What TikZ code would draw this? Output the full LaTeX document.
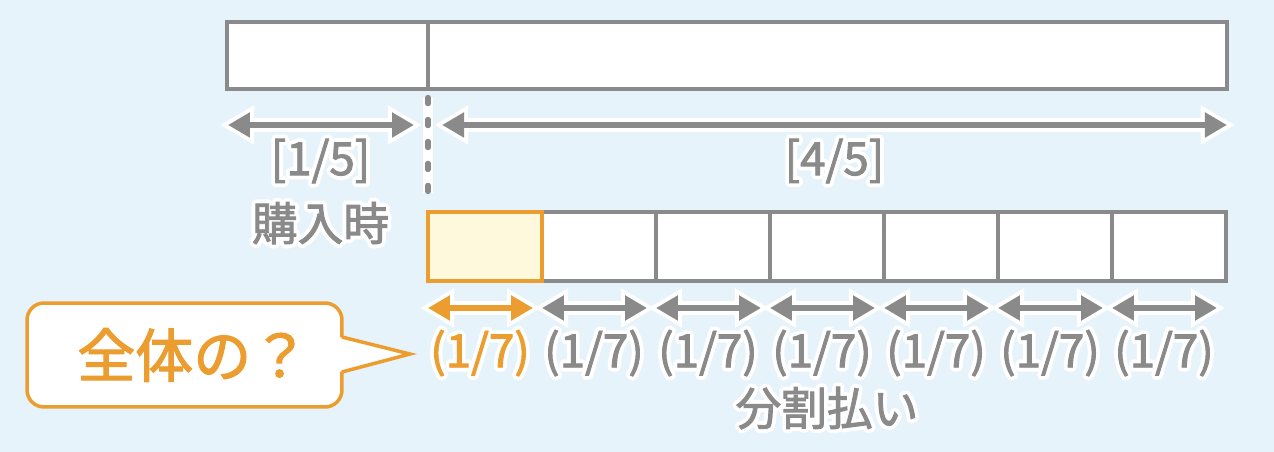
\documentclass[tikz,border=0pt]{standalone}
\usepackage{fontspec}
\setmainfont[FakeBold=2]{Noto Sans CJK JP}
\usepackage{contour}
\contourlength{2.2pt}
\contournumber{12}
\usetikzlibrary{arrows.meta,calc}
\definecolor{bgblue}{HTML}{E6F3FB}
\definecolor{tgray}{HTML}{8A8A8A}
\definecolor{torange}{HTML}{EC9D2F}
\definecolor{lyellow}{HTML}{FEF8DC}
\tikzset{
  bar/.style={draw=tgray, fill=white, line width=2pt, outer sep=0pt, inner sep=0pt},
  cell/.style={bar, minimum width=2.28cm, minimum height=1.38cm},
  dimline/.style={draw=tgray, line width=3.1pt,
    {Triangle[length=12.5pt,width=13.6pt]}-{Triangle[length=12.5pt,width=13.6pt]},
    preaction={draw=white, line width=7.7pt,
      {Triangle[length=19.3pt,width=21pt]}-{Triangle[length=19.3pt,width=21pt]},
      shorten <=-4.5pt, shorten >=-4.5pt}},
  lbl/.style={text=tgray, inner sep=0pt, font=\fontsize{26}{30}\selectfont},
}
\begin{document}
\begin{tikzpicture}[x=0.02cm, y=-0.02cm]
  %background
  \fill[bgblue] (0,0) rectangle (1274,452);
%Whole price
  \node[bar, minimum width=4.02cm, minimum height=1.34cm] (now) at (327.5,55.5) {};
  \node[bar, minimum width=15.98cm, minimum height=1.34cm] (rest) at (827.5,55.5) {};
  %divider
  \draw[tgray, line width=3pt, line cap=round, dash pattern=on 3.5pt off 9pt,
    preaction={draw=white, line width=5.8pt}]
    ($(now.south east)+(0,8.5)$) -- ($(now.south east)+(0,104)$);
  \draw[dimline] ($(now.south west)+(1,36)$) -- ($(now.south east)+(-14,36)$);
  \draw[dimline] ($(rest.south west)+(14,36)$) -- ($(rest.south east)+(0,36)$);
  \node[lbl] (fnow) at ($(now.south)+(-7,74)$) {\contour{white}{[1/5]}};
  \node[lbl] (buy) at ($(now.south)+(-7,136)$) {\contour{white}{購入時}};
  \node[lbl] (frest) at ($(rest.south)+(7,74)$) {\contour{white}{[4/5]}};
%Installments
  \foreach \i in {2,...,7} {
    \node[cell] (c\i) at ({485+114*(\i-1)},246.5) {};
  }
  \node[cell, draw=torange, fill=lyellow] (c1) at (485,246.5) {};
  \foreach \i in {2,...,7} {
    \draw[dimline] ($(c\i.south west)+(0,27)$) -- ($(c\i.south east)+(-9,27)$);
    \node[lbl] (l\i) at ($(c\i.south)+(-5,74)$) {\contour{white}{(1/7)}};
  }
  \draw[dimline, draw=torange] ($(c1.south west)+(0,27)$) -- ($(c1.south east)+(-9,27)$);
  \node[lbl, text=torange] (l1) at ($(c1.south)+(-5,74)$) {\contour{white}{(1/7)}};
  \node[lbl] (split) at ($(c4.south)+(0,129)$) {\contour{white}{分割払い}};
%Callout
  \node[draw=torange, fill=white, line width=2pt, rounded corners=0.34cm, outer sep=0pt,
    minimum width=6.3cm, minimum height=2.08cm, text=torange,
    font=\fontsize{33}{36}\selectfont] (ask) at (184.5,355) {\hspace{10pt}全体の？};
  \fill[white] ($(ask.east)+(-3,-18)$) -- ($(ask.east)+(68,-1)$) -- ($(ask.east)+(-3,17)$) -- cycle;
  \draw[torange, line width=2pt] ($(ask.east)+(0,-18)$) -- ($(ask.east)+(68,-1)$) -- ($(ask.east)+(0,17)$);
\end{tikzpicture}
\end{document}
